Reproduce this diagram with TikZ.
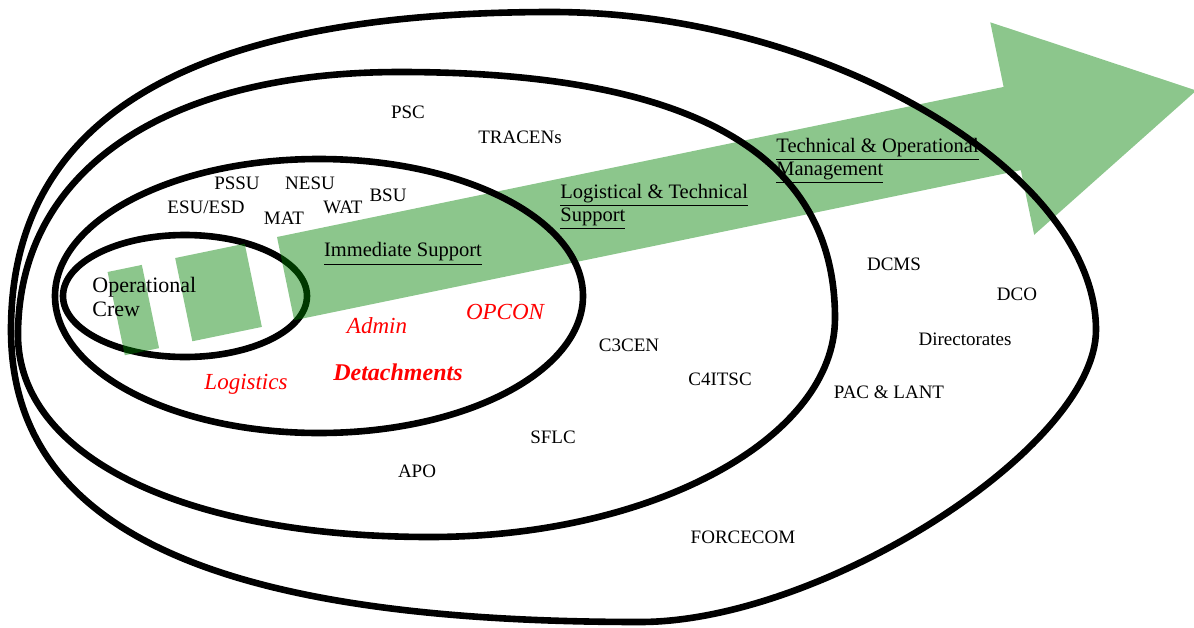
\documentclass[tikz,border=0pt]{standalone}
\usepackage{fontspec}
\setmainfont{Liberation Serif}
\definecolor{arrowgreen}{RGB}{0,128,0}
\definecolor{lblred}{RGB}{255,0,0}
\begin{document}
\begin{tikzpicture}[x=0.5pt,y=-0.5pt,
  ring/.style={line width=3.3pt},
  band/.style={fill=arrowgreen, fill opacity=0.45, draw=none},
  lbl/.style={inner sep=0pt, font=\fontsize{9.5}{11}\selectfont},
  mainlbl/.style={inner sep=0pt, font=\fontsize{10.25}{11.5}\selectfont, align=left, anchor=west},
  redlbl/.style={inner sep=0pt, text=lblred, font=\fontsize{11.5}{13}\selectfont\itshape}]
\useasboundingbox (0,0) rectangle (1194,627);
% innermost ellipse (below the arrow)
\draw[ring] (185,296) ellipse [x radius=122, y radius=61];
% arrow
\begin{scope}[shift={(277,237)}, rotate=11.67]
  \fill[band] (-173,0) rectangle (-138,85);
  \fill[band] (-104,0) rectangle (-33,85);
  \fill[band] (0,0) -- (742,0) -- (742,-66) -- (930,42.5) -- (742,151) -- (742,85) -- (0,85) -- cycle;
\end{scope}
% ellipse C
\draw[ring] (319,296) ellipse [x radius=264, y radius=137];
% ring B
\draw[ring] (18,335) .. controls (18,172) and (163,72) .. (400,72)
  .. controls (691,72) and (835,153) .. (835,318)
  .. controls (835,438) and (653,537) .. (430,537)
  .. controls (183,537) and (18,456) .. (18,335) -- cycle;
% ring A
\draw[ring] (11,330) .. controls (11,117) and (190,12) .. (552,12)
  .. controls (824,12) and (1096,171) .. (1096,330)
  .. controls (1096,447) and (822,622) .. (640,622)
  .. controls (212,622) and (11,529) .. (11,330) -- cycle;
% labels
\node[lbl] (psc) at (408,112) {PSC};
\node[lbl] (tracens) at (520,137) {TRACENs};
\node[lbl] (pssu) at (237,183) {PSSU};
\node[lbl] (nesu) at (310,183) {NESU};
\node[lbl] (esu) at (206,207) {ESU/ESD};
\node[lbl] (mat) at (284,218) {MAT};
\node[lbl] (wat) at (343,207) {WAT};
\node[lbl] (bsu) at (388,195) {BSU};
\node[mainlbl, anchor=center] (imm) at (403,254) {\underline{Immediate Support}};
\node[mainlbl] (logtech) at (560,207) {\underline{Logistical \& Technical}\\\underline{Support}};
\node[mainlbl] (techop) at (776,161) {\underline{Technical \& Operational}\\\underline{Management}};
\node[mainlbl, font=\fontsize{11}{12}\selectfont] (opcrew) at (92,297) {Operational\\Crew};
\node[redlbl] (admin) at (377,326) {Admin};
\node[redlbl] (opcon) at (505,312) {OPCON};
\node[redlbl] (logistics) at (246,384) {Logistics};
\node[redlbl, font=\fontsize{12}{14}\selectfont\bfseries\itshape] (det) at (398,372) {Detachments};
\node[lbl] (c3cen) at (629,345) {C3CEN};
\node[lbl] (c4itsc) at (720,379) {C4ITSC};
\node[lbl] (sflc) at (553,437) {SFLC};
\node[lbl] (apo) at (417,471) {APO};
\node[lbl] (dcms) at (894,264) {DCMS};
\node[lbl] (dco) at (1017,294) {DCO};
\node[lbl] (dir) at (965,339) {Directorates};
\node[lbl] (paclant) at (889,392) {PAC \& LANT};
\node[lbl] (forcecom) at (743,537) {FORCECOM};
\end{tikzpicture}
\end{document}
